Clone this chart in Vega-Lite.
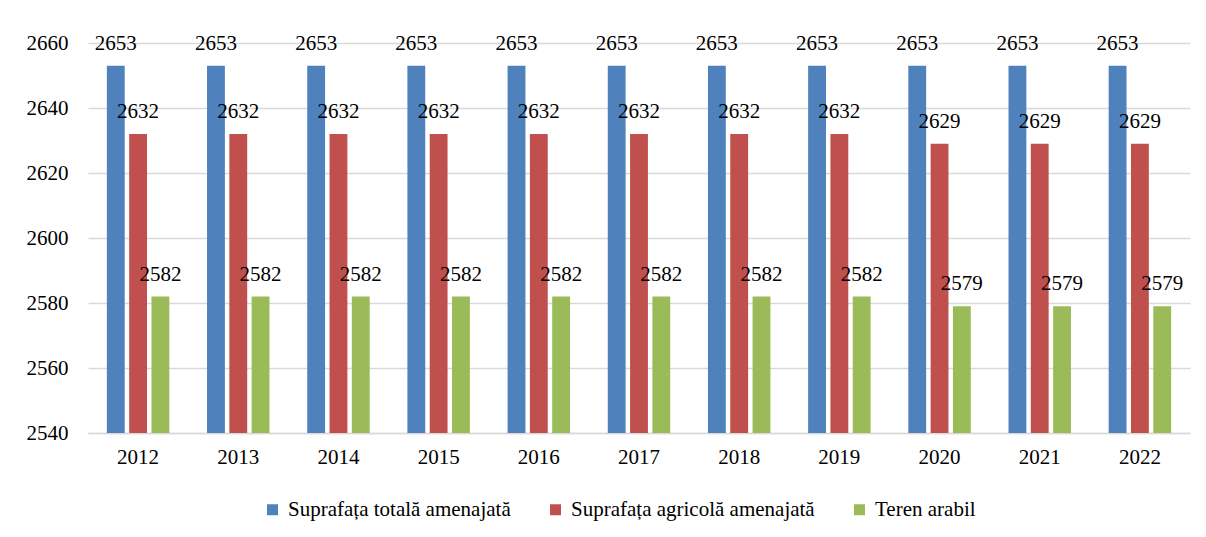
{
  "$schema": "https://vega.github.io/schema/vega-lite/v6.json",
  "autosize": "none",
  "width": 1102,
  "height": 390,
  "padding": {"left": 88, "top": 43, "right": 16, "bottom": 104},
  "background": "white",
  "config": {
    "view": {"stroke": null},
    "font": "Liberation Serif",
    "axis": {"labelFont": "Liberation Serif", "labelFontSize": 21, "labelColor": "#000000", "titleFont": "Liberation Serif"},
    "legend": {"labelFont": "Liberation Serif", "labelFontSize": 21, "labelColor": "#000000", "labelLimit": 0}
  },
  "data": {
    "values": [
      {"year": "2012", "series": "Suprafața totală amenajată", "value": 2653},
      {"year": "2012", "series": "Suprafața agricolă amenajată", "value": 2632},
      {"year": "2012", "series": "Teren arabil", "value": 2582},
      {"year": "2013", "series": "Suprafața totală amenajată", "value": 2653},
      {"year": "2013", "series": "Suprafața agricolă amenajată", "value": 2632},
      {"year": "2013", "series": "Teren arabil", "value": 2582},
      {"year": "2014", "series": "Suprafața totală amenajată", "value": 2653},
      {"year": "2014", "series": "Suprafața agricolă amenajată", "value": 2632},
      {"year": "2014", "series": "Teren arabil", "value": 2582},
      {"year": "2015", "series": "Suprafața totală amenajată", "value": 2653},
      {"year": "2015", "series": "Suprafața agricolă amenajată", "value": 2632},
      {"year": "2015", "series": "Teren arabil", "value": 2582},
      {"year": "2016", "series": "Suprafața totală amenajată", "value": 2653},
      {"year": "2016", "series": "Suprafața agricolă amenajată", "value": 2632},
      {"year": "2016", "series": "Teren arabil", "value": 2582},
      {"year": "2017", "series": "Suprafața totală amenajată", "value": 2653},
      {"year": "2017", "series": "Suprafața agricolă amenajată", "value": 2632},
      {"year": "2017", "series": "Teren arabil", "value": 2582},
      {"year": "2018", "series": "Suprafața totală amenajată", "value": 2653},
      {"year": "2018", "series": "Suprafața agricolă amenajată", "value": 2632},
      {"year": "2018", "series": "Teren arabil", "value": 2582},
      {"year": "2019", "series": "Suprafața totală amenajată", "value": 2653},
      {"year": "2019", "series": "Suprafața agricolă amenajată", "value": 2632},
      {"year": "2019", "series": "Teren arabil", "value": 2582},
      {"year": "2020", "series": "Suprafața totală amenajată", "value": 2653},
      {"year": "2020", "series": "Suprafața agricolă amenajată", "value": 2629},
      {"year": "2020", "series": "Teren arabil", "value": 2579},
      {"year": "2021", "series": "Suprafața totală amenajată", "value": 2653},
      {"year": "2021", "series": "Suprafața agricolă amenajată", "value": 2629},
      {"year": "2021", "series": "Teren arabil", "value": 2579},
      {"year": "2022", "series": "Suprafața totală amenajată", "value": 2653},
      {"year": "2022", "series": "Suprafața agricolă amenajată", "value": 2629},
      {"year": "2022", "series": "Teren arabil", "value": 2579}
    ]
  },
  "encoding": {
    "x": {
      "field": "year", "type": "nominal", "title": null,
      "scale": {"paddingInner": 0.332, "paddingOuter": 0.166},
      "axis": {"labelAngle": 0, "domain": true, "domainColor": "#d9d9d9", "domainWidth": 1.5, "ticks": false, "labelPadding": 13}
    },
    "xOffset": {
      "field": "series", "type": "nominal",
      "scale": {"domain": ["Suprafața totală amenajată", "Suprafața agricolă amenajată", "Teren arabil"], "paddingInner": 0.2, "paddingOuter": 0.1}
    },
    "y": {
      "field": "value", "type": "quantitative", "title": null,
      "scale": {"domain": [2540, 2660], "zero": false, "nice": false, "clamp": true},
      "axis": {"values": [2540, 2560, 2580, 2600, 2620, 2640, 2660], "format": "d", "domain": false, "ticks": false, "labelPadding": 20, "grid": true, "gridColor": "#d9d9d9", "gridWidth": 1.5}
    }
  },
  "layer": [
    {
      "mark": {"type": "bar"},
      "encoding": {
        "y2": {"datum": 2540},
        "color": {
          "field": "series", "type": "nominal", "title": null,
          "scale": {"domain": ["Suprafața totală amenajată", "Suprafața agricolă amenajată", "Teren arabil"], "range": ["#4F81BD", "#C0504D", "#9BBB59"]},
          "legend": {"orient": "none", "direction": "horizontal", "legendX": 174, "legendY": 456, "symbolType": "square", "symbolSize": 121, "symbolStrokeWidth": 0, "labelOffset": 5, "columnPadding": 34, "labelFontSize": 21, "labelFont": "Liberation Serif", "labelLimit": 0, "title": null}
        }
      }
    },
    {
      "mark": {"type": "text", "baseline": "alphabetic", "dy": -16, "fontSize": 21, "font": "Liberation Serif", "color": "#000000"},
      "encoding": {"text": {"field": "value", "type": "quantitative", "format": "d"}}
    }
  ]
}
